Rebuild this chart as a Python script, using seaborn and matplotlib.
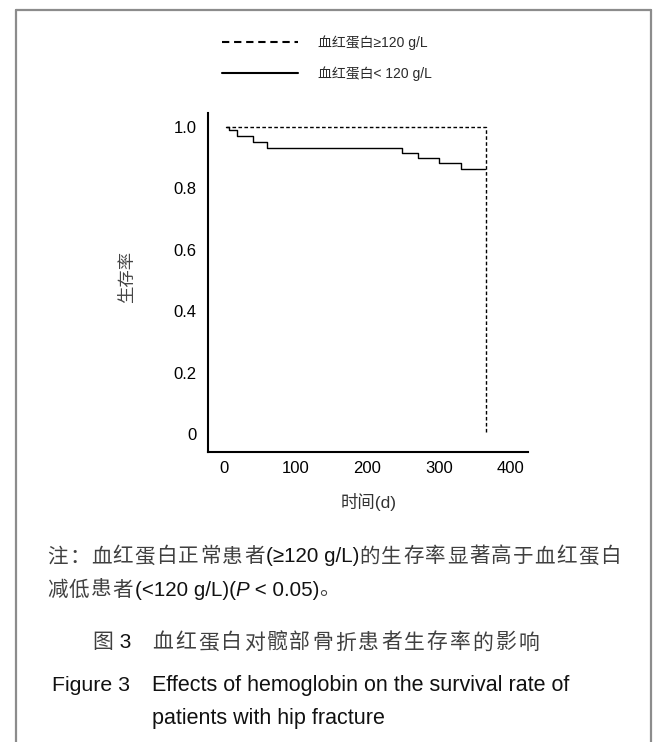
import numpy as np
import pandas as pd
import matplotlib
matplotlib.use("Agg")
import matplotlib.pyplot as plt
import seaborn as sns
from matplotlib.lines import Line2D

# ---------------- data ----------------
high_label = "血红蛋白≥120 g/L"
low_label = "血红蛋白< 120 g/L"
high_time = [3, 365, 365]
high_surv = [1.0, 1.0, 0.0]
low_time = [3, 7.4, 18.6, 40, 59.6, 249, 270, 300.6, 330.7, 364]
low_surv = [1.0, 0.989, 0.971, 0.949, 0.930, 0.915, 0.897, 0.881, 0.862, 0.862]
x_ticks = [0, 100, 200, 300, 400]
y_ticks = [0, 0.2, 0.4, 0.6, 0.8, 1.0]
y_ticklabels = ["0", "0.2", "0.4", "0.6", "0.8", "1.0"]
x_label = "时间(d)"
y_label = "生存率"
note1 = "注：血红蛋白正常患者(≥120 g/L)的生存率显著高于血红蛋白"
note2a = "减低患者(<120 g/L)("
note2b = "P"
note2c = " < 0.05)。"
cap_cn_a = "图 3"
cap_cn_b = "血红蛋白对髋部骨折患者生存率的影响"
cap_en_a = "Figure 3"
cap_en_b = "Effects of hemoglobin on the survival rate of"
cap_en_c = "patients with hip fracture"

sns.set_style("white")
FAM = ["Liberation Sans", "Noto Sans CJK SC", "DejaVu Sans"]
CJK = ["Noto Sans CJK SC", "DejaVu Sans"]
plt.rcParams["font.family"] = FAM

W, H = 653, 742
fig = plt.figure(figsize=(W / 100, H / 100), dpi=100)
renderer = fig.canvas.get_renderer()


def fx(px):
    return px / W


def fy(py):
    return 1 - py / H


def is_cjk(ch):
    o = ord(ch)
    return (0x2E80 <= o <= 0x9FFF) or (0xFF00 <= o <= 0xFFEF)


def mixed_text(x, base, s, cjk_size, cjk_pitch, lat_size, cjk_color="#404040",
               lat_color="#111111", italic=False):
    """Place string s starting at pixel x on pixel baseline `base`.
    CJK characters advance on a fixed pitch, Latin runs by their own width."""
    runs = []
    for ch in s:
        c = is_cjk(ch)
        if runs and runs[-1][0] == c and not c:
            runs[-1][1] += ch
        else:
            runs.append([c, ch])
    for c, txt in runs:
        if c:
            fig.text(fx(x), fy(base), txt, ha="left", va="baseline",
                     fontsize=cjk_size, color=cjk_color, family=CJK)
            x += cjk_pitch
        else:
            t = fig.text(fx(x), fy(base), txt, ha="left", va="baseline",
                         fontsize=lat_size, color=lat_color, family=FAM,
                         style="italic" if italic else "normal")
            x += t.get_window_extent(renderer).width
    return x


# axes box
L, R, T, B = 208.3, 528.3, 112.7, 452.3
ax = fig.add_axes([fx(L), fy(B), (R - L) / W, (B - T) / H])

df_high = pd.DataFrame({"time": high_time, "surv": high_surv})
df_low = pd.DataFrame({"time": low_time, "surv": low_surv})

sns.lineplot(data=df_high, x="time", y="surv", ax=ax, color="black",
             linewidth=1.0, linestyle=(0, (2.6, 1.7)), drawstyle="steps-post",
             estimator=None, sort=False)
sns.lineplot(data=df_low, x="time", y="surv", ax=ax, color="black",
             linewidth=1.0, drawstyle="steps-post", estimator=None, sort=False)

ax.set_xlim(-21.9, 424.6)
ax.set_ylim(-0.0585, 1.0455)
ax.set_xticks(x_ticks)
ax.set_xticklabels([str(v) for v in x_ticks])
ax.set_yticks(y_ticks)
ax.set_yticklabels(y_ticklabels)
ax.set_xlabel("")
ax.set_ylabel("")
for s in ["top", "right"]:
    ax.spines[s].set_visible(False)
for s in ["left", "bottom"]:
    ax.spines[s].set_linewidth(1.5)
    ax.spines[s].set_color("black")
ax.tick_params(axis="both", direction="in", length=4, width=1.3,
               colors="black", labelsize=12)
ax.tick_params(axis="y", pad=8.5)
ax.tick_params(axis="x", pad=6.5)
ax.grid(False)

# legend
handles = [Line2D([], [], color="black", lw=1.5, linestyle=(0, (3.5, 2.3))),
           Line2D([], [], color="black", lw=1.5)]
leg = ax.legend(handles, [high_label, low_label], loc="center left",
                bbox_to_anchor=(fx(221.7), fy(58)),
                bbox_transform=fig.transFigure, frameon=False,
                handlelength=5.5, handletextpad=1.44, labelspacing=1.13,
                borderpad=0, borderaxespad=0, prop={"family": FAM, "size": 10})
for t in leg.get_texts():
    t.set_color("#2a2a2a")

# axis labels
fig.text(fx(126.7), fy(276.7), y_label, rotation=90, ha="center", va="center",
         fontsize=12.5, color="#444444", family=FAM)
fig.text(fx(368.5), fy(501.7), x_label, ha="center", va="center",
         fontsize=12.5, color="#333333", family=FAM)

# note (two lines)
NS, NP, NL = 14.8, 21.9, 14.8
mixed_text(47, 555 + 7.5, note1, NS, NP, NL)
xn = mixed_text(47, 588 + 7.5, note2a, NS, NP, NL)
xn = mixed_text(xn, 588 + 7.5, note2b, NS, NP, NL, italic=True)
mixed_text(xn, 588 + 7.5, note2c, NS, NP, NL)

# Chinese caption
mixed_text(92, 641 + 7.5, cap_cn_a, 15.0, 21.5, 15)
mixed_text(152, 641 + 7.5, cap_cn_b, 15.0, 22.9, 15)

# English caption
fig.text(fx(52), fy(683 + 7.6), cap_en_a, ha="left", va="baseline", fontsize=15.3,
         color="#111111", family=FAM)
fig.text(fx(152), fy(683 + 7.6), cap_en_b, ha="left", va="baseline", fontsize=15.5,
         color="#111111", family=FAM)
fig.text(fx(152), fy(716 + 7.6), cap_en_c, ha="left", va="baseline", fontsize=15.5,
         color="#111111", family=FAM)

# outer frame (open at bottom)
bc = "#8c8c8c"
fig.add_artist(Line2D([fx(15.7), fx(15.7)], [0, fy(10)], transform=fig.transFigure,
                      color=bc, lw=1.6))
fig.add_artist(Line2D([fx(15.7), fx(650.5)], [fy(10), fy(10)], transform=fig.transFigure,
                      color=bc, lw=1.6))
fig.add_artist(Line2D([fx(650.5), fx(650.5)], [fy(10), 0], transform=fig.transFigure,
                      color=bc, lw=1.6))

fig.savefig("out.png", dpi=100)
